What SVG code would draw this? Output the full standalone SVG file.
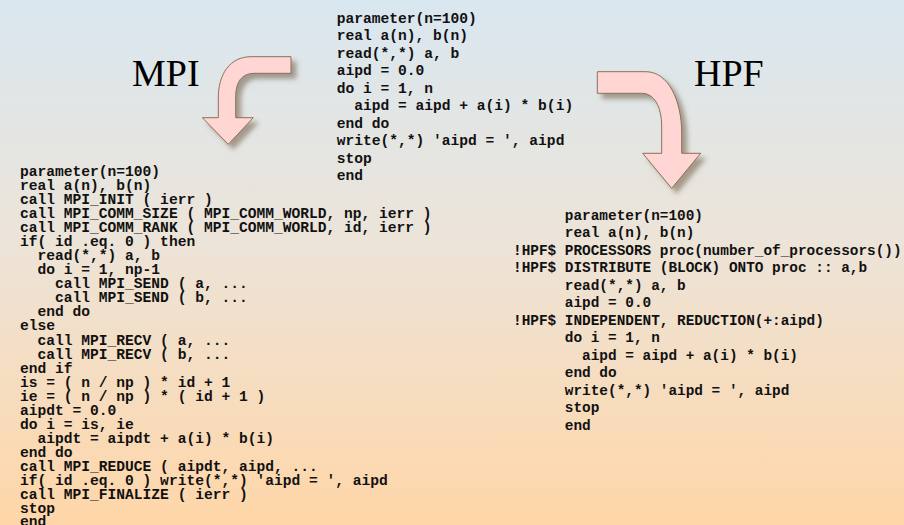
<svg xmlns="http://www.w3.org/2000/svg" width="904" height="525" viewBox="0 0 904 525">
  <defs>
    <linearGradient id="bg" x1="0" y1="0" x2="0" y2="1">
      <stop offset="0" stop-color="#d9e7f0"/>
      <stop offset="0.45" stop-color="#ece4d9"/>
      <stop offset="1" stop-color="#ffd6a8"/>
    </linearGradient>
    <filter id="shadow" x="-30%" y="-30%" width="160%" height="160%">
      <feDropShadow dx="5" dy="5" stdDeviation="2.5" flood-color="#6e5a45" flood-opacity="0.55"/>
    </filter>
  </defs>
  <style>
    .code { font-family: "Liberation Mono", "Courier New", monospace; font-weight: bold; font-size: 14.6px; fill: #111; white-space: pre; }
    .hpf { font-size: 14.4px; }
    .label { font-family: "Liberation Serif", "Times New Roman", serif; font-size: 38px; fill: #000; }
    .arrow { fill: #ffd6d4; stroke: #8a7257; stroke-width: 1; filter: url(#shadow); }
  </style>

  <rect width="904" height="525" fill="url(#bg)"/>

  <!-- serial program -->
  <g id="serial" class="code">
    <text x="336.7" y="22.7" xml:space="preserve">parameter(n=100)</text>
    <text x="336.7" y="40.2" xml:space="preserve">real a(n), b(n)</text>
    <text x="336.7" y="57.7" xml:space="preserve">read(*,*) a, b</text>
    <text x="336.7" y="75.1" xml:space="preserve">aipd = 0.0</text>
    <text x="336.7" y="92.6" xml:space="preserve">do i = 1, n</text>
    <text x="336.7" y="110.1" xml:space="preserve">  aipd = aipd + a(i) * b(i)</text>
    <text x="336.7" y="127.6" xml:space="preserve">end do</text>
    <text x="336.7" y="145.1" xml:space="preserve">write(*,*) 'aipd = ', aipd</text>
    <text x="336.7" y="162.5" xml:space="preserve">stop</text>
    <text x="336.7" y="180.0" xml:space="preserve">end</text>
  </g>

  <!-- MPI version -->
  <g id="mpi-code" class="code">
    <text x="20" y="176.0" xml:space="preserve">parameter(n=100)</text>
    <text x="20" y="190.0" xml:space="preserve">real a(n), b(n)</text>
    <text x="20" y="204.1" xml:space="preserve">call MPI_INIT ( ierr )</text>
    <text x="20" y="218.1" xml:space="preserve">call MPI_COMM_SIZE ( MPI_COMM_WORLD, np, ierr )</text>
    <text x="20" y="232.2" xml:space="preserve">call MPI_COMM_RANK ( MPI_COMM_WORLD, id, ierr )</text>
    <text x="20" y="246.2" xml:space="preserve">if( id .eq. 0 ) then</text>
    <text x="20" y="260.2" xml:space="preserve">  read(*,*) a, b</text>
    <text x="20" y="274.3" xml:space="preserve">  do i = 1, np-1</text>
    <text x="20" y="288.3" xml:space="preserve">    call MPI_SEND ( a, ...</text>
    <text x="20" y="302.4" xml:space="preserve">    call MPI_SEND ( b, ...</text>
    <text x="20" y="316.4" xml:space="preserve">  end do</text>
    <text x="20" y="330.4" xml:space="preserve">else</text>
    <text x="20" y="344.5" xml:space="preserve">  call MPI_RECV ( a, ...</text>
    <text x="20" y="358.5" xml:space="preserve">  call MPI_RECV ( b, ...</text>
    <text x="20" y="372.6" xml:space="preserve">end if</text>
    <text x="20" y="386.6" xml:space="preserve">is = ( n / np ) * id + 1</text>
    <text x="20" y="400.6" xml:space="preserve">ie = ( n / np ) * ( id + 1 )</text>
    <text x="20" y="414.7" xml:space="preserve">aipdt = 0.0</text>
    <text x="20" y="428.7" xml:space="preserve">do i = is, ie</text>
    <text x="20" y="442.8" xml:space="preserve">  aipdt = aipdt + a(i) * b(i)</text>
    <text x="20" y="456.8" xml:space="preserve">end do</text>
    <text x="20" y="470.8" xml:space="preserve">call MPI_REDUCE ( aipdt, aipd, ...</text>
    <text x="20" y="484.9" xml:space="preserve">if( id .eq. 0 ) write(*,*) 'aipd = ', aipd</text>
    <text x="20" y="498.9" xml:space="preserve">call MPI_FINALIZE ( ierr )</text>
    <text x="20" y="513.0" xml:space="preserve">stop</text>
    <text x="20" y="525.5" xml:space="preserve">end</text>
  </g>

  <!-- HPF version -->
  <g id="hpf-code" class="code hpf">
    <text x="513" y="219.8" xml:space="preserve">      parameter(n=100)</text>
    <text x="513" y="237.3" xml:space="preserve">      real a(n), b(n)</text>
    <text x="513" y="254.8" xml:space="preserve">!HPF$ PROCESSORS proc(number_of_processors())</text>
    <text x="513" y="272.3" xml:space="preserve">!HPF$ DISTRIBUTE (BLOCK) ONTO proc :: a,b</text>
    <text x="513" y="289.8" xml:space="preserve">      read(*,*) a, b</text>
    <text x="513" y="307.3" xml:space="preserve">      aipd = 0.0</text>
    <text x="513" y="324.8" xml:space="preserve">!HPF$ INDEPENDENT, REDUCTION(+:aipd)</text>
    <text x="513" y="342.3" xml:space="preserve">      do i = 1, n</text>
    <text x="513" y="359.8" xml:space="preserve">        aipd = aipd + a(i) * b(i)</text>
    <text x="513" y="377.3" xml:space="preserve">      end do</text>
    <text x="513" y="394.8" xml:space="preserve">      write(*,*) 'aipd = ', aipd</text>
    <text x="513" y="412.3" xml:space="preserve">      stop</text>
    <text x="513" y="429.8" xml:space="preserve">      end</text>
  </g>

  <!-- titles -->
  <g id="mpi-label">
    <text class="label" x="132" y="86">MPI</text>
  </g>
  <g id="hpf-label">
    <text class="label" x="694" y="86">HPF</text>
  </g>

  <!-- bent arrows from the serial code to each version -->
  <g id="connectors">
    <path class="arrow" d="M291,56.7 L251,56.7 C230,56.7 218.3,74 218.3,98 L218.3,117.7 L202.3,117.7 L228.3,144.3 L253.3,117.7 L235.7,117.7 L235.7,96 C235.7,82 242,73.3 254,73.3 L291,73.3 Z"/>
    <path class="arrow" d="M597.3,71.7 L646,71.7 C668,71.7 681.7,100 681.7,133 L681.7,153.3 L700.7,153.3 L671.7,188.3 L642.7,153.3 L661.7,153.3 L661.7,127 C661.7,106 654,93.3 641.7,93.3 L597.3,93.3 Z"/>
  </g>
</svg>
